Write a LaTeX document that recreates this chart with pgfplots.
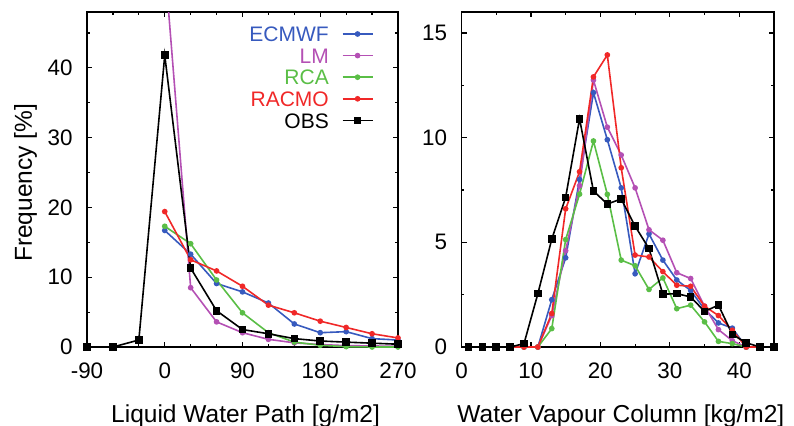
\documentclass[border=0pt]{standalone}
\usepackage{fontspec}
\setmainfont{Liberation Sans}
\usepackage{pgfplots}
\pgfplotsset{compat=1.18}
\usepackage{pgfplotstable}
\definecolor{cEC}{RGB}{55,90,190}
\definecolor{cLM}{RGB}{180,80,180}
\definecolor{cRCA}{RGB}{90,190,70}
\definecolor{cRAC}{RGB}{240,40,40}

\pgfplotstableread{
x obs
-90 0
-60 0
-30 1.0
0 41.8
30 11.3
60 5.2
90 2.5
120 1.9
150 1.2
180 0.86
210 0.7
240 0.55
270 0.4
}\lwpobs
\pgfplotstableread{
x ec lm rca rac
0 16.7 55 17.3 19.4
30 13.3 8.5 14.8 12.5
60 9.1 3.6 9.6 10.9
90 7.9 2.05 4.9 8.7
120 6.3 1.1 2.05 6.0
150 3.3 0.6 0.7 4.9
180 2.05 0.35 0.25 3.7
210 2.2 0.2 0.05 2.8
240 1.2 0.15 0 1.9
270 1.0 0.1 0 1.3
}\lwpmod
\pgfplotstableread{
x ec lm rca rac obs
1 0 0 0 0 0
3 0 0 0 0 0
5 0 0 0 0 0
7 0 0 0 0 0
9 0 0 0 0 0.16
11 0 0 0 0 2.55
13 2.26 1.5 0.88 1.6 5.15
15 4.26 4.6 5.13 6.6 7.15
17 8.0 7.7 7.3 8.37 10.9
19 12.15 12.75 9.84 12.9 7.45
21 9.9 10.5 7.29 13.95 6.83
23 7.6 9.17 4.15 8.56 7.07
25 3.5 7.6 3.88 4.39 5.77
27 5.4 5.6 2.75 4.3 4.7
29 4.15 5.1 3.3 3.6 2.52
31 3.2 3.55 1.83 2.95 2.55
33 2.7 3.27 2.0 2.9 2.39
35 1.8 1.95 1.2 1.95 1.7
37 1.15 0.83 0.27 1.5 2.0
39 0.9 0.3 0.16 0.8 0.6
41 0 0 0 0 0.2
43 0 0 0 0 0
45 0 0 0 0 0
}\wvc

\pgfplotsset{
  myaxis/.style={
    scale only axis,
    height=167.5pt,
    axis line style={line width=0.75pt},
    every tick/.style={line width=0.6pt, black},
    major tick length=2.5pt,
    minor tick length=1.4pt,
    tick align=inside,
    tick pos=both,
    /pgf/number format/assume math mode=true,
    ticklabel style={font=\fontsize{11.2}{13}\selectfont, inner sep=0pt},
    xticklabel shift=7.5pt,
    yticklabel shift=7pt,
    label style={font=\fontsize{12.25}{14}\selectfont},
    xlabel style={at={(axis description cs:0.51,-0.226)}, anchor=base},
    clip marker paths=false,
    every axis plot/.append style={line width=0.8pt},
  },
}

\begin{document}
\begin{tikzpicture}
\path[use as bounding box] (0,0) rectangle (397pt,212.5pt);

\begin{axis}[myaxis,
  at={(43.5pt,39pt)}, anchor=south west,
  width=155.5pt,
  xmin=-90, xmax=270, ymin=0, ymax=48,
  xtick={-90,0,90,180,270},
  xticklabels={-90,0,90,180,270},
  minor xtick={-60,-30,30,60,120,150,210,240},
  ytick={0,10,20,30,40},
  yticklabels={0,10,20,30,40},
  minor ytick={5,15,25,35,45},
  xlabel={Liquid Water Path [g/m2]},
  ylabel={Frequency [\%]},
  ylabel style={at={(axis description cs:-0.177,0.49)}, anchor=base},
  legend cell align=right,
  legend plot pos=right,
  legend image code/.code={\draw[mark repeat=2,mark phase=2] plot coordinates {(0pt,0pt) (7.5pt,0pt) (15pt,0pt)};},
  legend style={at={(axis description cs:1,1)}, anchor=north east,
    xshift=-12.1pt, yshift=-7pt, draw=none, fill=none, inner sep=0pt,
    font=\fontsize{10.5}{12}\selectfont,
    nodes={inner sep=0pt, text height=7.6pt, text depth=0pt},
    row sep=3.2pt, column sep=6.5pt},
]
\addplot[cEC, mark=*, mark size=1pt] table[x=x,y=ec] {\lwpmod};
\addlegendentry{\textcolor{cEC}{ECMWF}}
\addplot[cLM, mark=*, mark size=1pt] table[x=x,y=lm] {\lwpmod};
\addlegendentry{\textcolor{cLM}{LM}}
\addplot[cRCA, mark=*, mark size=1pt] table[x=x,y=rca] {\lwpmod};
\addlegendentry{\textcolor{cRCA}{RCA}}
\addplot[cRAC, mark=*, mark size=1pt] table[x=x,y=rac] {\lwpmod};
\addlegendentry{\textcolor{cRAC}{RACMO}}
\addplot[black, mark=square*, mark size=1.5pt] table[x=x,y=obs] {\lwpobs};
\addlegendentry{OBS}
\end{axis}

\begin{axis}[myaxis,
  at={(230.75pt,39pt)}, anchor=south west,
  width=156.25pt,
  xmin=0, xmax=45, ymin=0, ymax=16,
  xtick={0,10,20,30,40},
  xticklabels={0,10,20,30,40},
  minor xtick={5,15,25,35},
  ytick={0,5,10,15},
  yticklabels={0,5,10,15},
  minor ytick={2.5,7.5,12.5},
  xlabel={Water Vapour Column [kg/m2]},
]
\addplot[cEC, mark=*, mark size=1pt] table[x=x,y=ec] {\wvc};
\addplot[cLM, mark=*, mark size=1pt] table[x=x,y=lm] {\wvc};
\addplot[cRCA, mark=*, mark size=1pt] table[x=x,y=rca] {\wvc};
\addplot[cRAC, mark=*, mark size=1pt] table[x=x,y=rac] {\wvc};
\addplot[black, mark=square*, mark size=1.5pt] table[x=x,y=obs] {\wvc};
\end{axis}
\end{tikzpicture}
\end{document}
